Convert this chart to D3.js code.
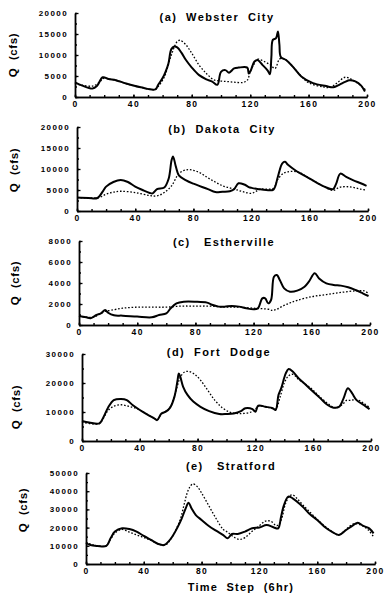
<!DOCTYPE html>
<html>
<head>
<meta charset="utf-8">
<script src="https://cdn.jsdelivr.net/npm/d3@7"></script>
<style>
  html, body { margin: 0; padding: 0; background: #fff; }
  svg { display: block; }
  text { font-family: "Liberation Sans", Arial, sans-serif; font-weight: bold; fill: #000; }
</style>
</head>
<body>
<svg id="chart" width="387" height="601"></svg>
<script>
// ---------------- DATA (time step, Q in cfs) ----------------
const xTicks = [0, 40, 80, 120, 160, 200];

const titles = ["(a)  Webster  City", "(b)  Dakota  City", "(c)   Estherville", "(d)  Fort  Dodge", "(e)   Stratford"];
const yMax = [20000, 20000, 8000, 30000, 50000];
const yLabelStep = [5000, 5000, 2000, 10000, 10000];
const yMinorStep = [2500, 2500, 1000, 5000, 5000];

const websterObs = [[0,3500],[5,2700],[12,2000],[15,2600],[19,4700],[23,4300],[28,4000],[35,3200],[45,2300],[55,1800],[57,2900],[60,4500],[62,6000],[64,8000],[66,11400],[68,12000],[70,11800],[73,10500],[76,8800],[80,7000],[85,5200],[90,4200],[94,3650],[97.5,2900],[100,6000],[103,6400],[105.5,5800],[109,6800],[112,7000],[118,7000],[119,5600],[120.5,6400],[122.8,8400],[125,8800],[128.5,7600],[132,6300],[133.5,5400],[134.5,9500],[135.5,13600],[137.7,14000],[139,15600],[140,12500],[141,9500],[144.6,8800],[149,7300],[155,4900],[163,3300],[172,2600],[177,2300],[181,2900],[185,3600],[188,4000],[192,3700],[196,2700],[198.6,1300]];
const websterSim = [[0,3200],[5,2800],[12,2600],[16,3300],[20,4500],[23,4300],[28,4000],[35,3200],[45,2300],[55,1800],[57,2500],[60,4000],[62,5500],[66,10000],[70,13200],[72,13500],[76,12400],[80,10400],[85,7600],[90,5600],[95,4100],[100,3800],[105,3650],[110,3500],[115,3450],[118,4000],[120,6000],[123,8000],[125,9000],[130,8400],[134,7600],[137,6800],[140,9000],[142,9200],[145,8700],[149,7300],[155,4900],[160,3400],[170,2400],[175,2300],[180,3500],[185,4700],[190,4100],[195,2900],[199,1700]];

const dakotaObs = [[0,3200],[8,3100],[14,3100],[18,4800],[20,5800],[25,6900],[30,7400],[35,6900],[40,5800],[45,5000],[50,4300],[52,4200],[55,5200],[60,5600],[63,7700],[65,12100],[66,13000],[68,10500],[70,8500],[75,7300],[80,6500],[90,5200],[95,4500],[100,4600],[105,4700],[108,5200],[111,6600],[115,6300],[118,5700],[120,5500],[125,5200],[130,5000],[135,5100],[138,8100],[141,11300],[143,11700],[145,11000],[150,9700],[160,7700],[170,5800],[176,5200],[178,6400],[181,8900],[185,8100],[190,7300],[195,6600],[199,6000]];
const dakotaSim = [[0,3200],[8,3100],[15,3200],[20,4000],[25,4500],[30,4700],[40,4400],[50,3700],[55,3600],[60,4400],[65,6000],[70,8900],[75,9800],[80,9700],[85,9000],[90,7900],[95,6900],[100,6000],[105,5500],[110,5000],[115,4500],[120,4200],[123,4700],[126,5200],[130,5200],[135,5400],[138,7500],[142,9000],[146,9400],[150,9400],[155,8800],[160,7700],[170,5800],[176,4900],[180,5600],[185,5800],[190,5600],[195,5200],[199,5000]];

const esthervilleObs = [[0,860],[5,730],[8,650],[12,950],[15,1110],[18,1430],[20,1170],[24,920],[30,890],[40,800],[50,730],[55,950],[60,1110],[63,1590],[67,2060],[72,2220],[80,2220],[88,2130],[92,1900],[96,1750],[100,1750],[105,1810],[110,1750],[115,1590],[120,1490],[123,1590],[126,2540],[128,2540],[130,2060],[132,2380],[134,4600],[136,4760],[138,4290],[141,3490],[145,3170],[150,3270],[155,3650],[158,4130],[162,4920],[165,4440],[170,3970],[175,3810],[180,3750],[185,3590],[190,3330],[195,3020],[199,2760]];
const esthervilleSim = [[0,850],[5,750],[10,750],[15,1100],[18,1300],[22,1400],[30,1600],[40,1700],[50,1700],[60,1700],[70,1800],[80,1800],[90,1800],[100,1700],[110,1700],[120,1600],[130,1500],[133,1400],[136,1500],[140,1800],[145,2100],[150,2350],[160,2700],[170,2900],[180,3100],[190,3250],[196,3250],[199,3000]];

const fortDodgeObs = [[0,6900],[5,6400],[12,6100],[15,8400],[18,11500],[22,14100],[27,14500],[31,14100],[35,12400],[40,10700],[45,9200],[50,7800],[52,7200],[55,9500],[58,10100],[61,11500],[64,15300],[66,20500],[67,23300],[68,22200],[70,18700],[73,15900],[77,13600],[82,11800],[88,10300],[95,9300],[100,9300],[105,9500],[110,10300],[113,11300],[118,11000],[120,10100],[122,12200],[127,11800],[132,11300],[134,10700],[136,15900],[138,18400],[141,23300],[143,24800],[146,23900],[150,21600],[155,19300],[160,17000],[165,14700],[170,12400],[174,11500],[178,11800],[181,14700],[184,18200],[187,16400],[190,14100],[195,12400],[199,11000]];
const fortDodgeSim = [[0,6500],[12,6000],[15,8000],[18,10500],[22,12000],[27,12500],[32,12000],[36,11500],[40,10700],[45,9200],[50,7800],[52,7300],[55,9300],[60,11000],[63,14000],[66,19000],[68,22000],[71,23800],[74,24000],[78,23000],[82,21000],[87,17500],[92,14000],[97,11500],[102,10000],[107,9500],[112,9500],[117,10000],[120,11000],[122,12000],[130,11500],[134,11000],[137,15000],[140,20000],[143,22500],[146,23000],[150,21200],[155,19500],[160,17500],[165,15000],[170,13000],[175,11500],[180,12500],[183,14000],[186,14000],[190,14300],[195,13000],[199,11500]];

const stratfordObs = [[0,11700],[3,10400],[8,9900],[14,9900],[17,14100],[20,17800],[25,19600],[30,19200],[35,17800],[40,15400],[45,13200],[50,11000],[54,10400],[57,12300],[60,15400],[63,19600],[66,24500],[69,30600],[71,33700],[73,30600],[76,26900],[80,24200],[85,20900],[90,18300],[95,15900],[98,14100],[101,16500],[105,16500],[110,17800],[115,19600],[120,20100],[125,21400],[130,20100],[133,19600],[135,26000],[137,32400],[140,37000],[143,36100],[150,31500],[155,27300],[160,24200],[165,20500],[170,17800],[175,15900],[180,18700],[185,21400],[188,22700],[192,20900],[196,19600],[199,16800]];
const stratfordSim = [[0,12000],[5,10500],[14,10000],[17,13500],[20,17000],[25,19000],[30,17500],[35,16000],[40,14500],[45,13000],[50,11000],[55,10500],[60,15500],[65,24000],[68,33000],[70,39000],[72,42500],[74,44000],[77,42500],[80,39000],[85,32000],[90,25000],[95,19000],[98,17500],[102,15000],[106,13500],[110,14500],[115,18000],[120,21000],[124,23500],[128,23500],[132,21000],[135,24000],[138,33000],[141,37500],[143,38000],[146,36000],[150,32500],[155,28500],[160,24500],[165,21000],[170,18000],[175,16000],[180,19000],[185,22000],[190,21500],[195,19000],[199,15000]];

const observed = [websterObs, dakotaObs, esthervilleObs, fortDodgeObs, stratfordObs];
const simulated = [websterSim, dakotaSim, esthervilleSim, fortDodgeSim, stratfordSim];

// ---------------- LAYOUT ----------------
const panels = [
  {x0: 75, x1: 367, yb: 97,  yt: 13,  tx: 217, ty: 21,  qx: 13, qy: 55},
  {x0: 77, x1: 368, yb: 211, yt: 127, tx: 222, ty: 133, qx: 14, qy: 170},
  {x0: 79, x1: 370, yb: 325, yt: 241, tx: 224, ty: 246, qx: 15, qy: 283},
  {x0: 82, x1: 371, yb: 441, yt: 354, tx: 219, ty: 356, qx: 16, qy: 407},
  {x0: 86, x1: 375, yb: 564, yt: 473, tx: 231, ty: 470, qx: 23, qy: 510}
];

const svg = d3.select("#chart");

panels.forEach((p, i) => {
  const x = d3.scaleLinear().domain([0, 200]).range([p.x0, p.x1]);
  const y = d3.scaleLinear().domain([0, yMax[i]]).range([p.yb, p.yt]);
  const g = svg.append("g");

  // y axis minor ticks
  g.append("g").attr("transform", `translate(${p.x0},0)`)
    .call(d3.axisLeft(y).tickValues(d3.range(0, yMax[i] + 1, yMinorStep[i])).tickSize(-2).tickSizeOuter(0).tickFormat(""))
    .call(a => a.selectAll("line,path").attr("stroke", "#000").attr("stroke-width", 1.3));
  // y axis labeled ticks
  g.append("g").attr("transform", `translate(${p.x0},0)`)
    .call(d3.axisLeft(y).tickValues(d3.range(0, yMax[i] + 1, yLabelStep[i])).tickSize(-3.5).tickSizeOuter(0).tickPadding(7).tickFormat(d3.format("d")))
    .call(a => {
      a.select("path").attr("stroke", "#000").attr("stroke-width", 1.6);
      a.selectAll("line").attr("stroke", "#000").attr("stroke-width", 1.3);
      a.selectAll("text").attr("font-size", 8).attr("letter-spacing", 1.4).attr("font-family", "Liberation Sans, Arial, sans-serif").attr("font-weight", "bold");
    });

  // x axis minor ticks
  g.append("g").attr("transform", `translate(0,${p.yb})`)
    .call(d3.axisBottom(x).tickValues(d3.range(0, 201, 10)).tickSize(-2).tickSizeOuter(0).tickFormat(""))
    .call(a => a.selectAll("line,path").attr("stroke", "#000").attr("stroke-width", 1.4));
  // x axis labels
  g.append("g").attr("transform", `translate(0,${p.yb})`)
    .call(d3.axisBottom(x).tickValues(xTicks).tickSize(-2.5).tickSizeOuter(0).tickPadding(4).tickFormat(d3.format("d")))
    .call(a => {
      a.select("path").attr("stroke", "#000").attr("stroke-width", 1.6);
      a.selectAll("line").attr("stroke", "#000").attr("stroke-width", 1.4);
      a.selectAll("text").attr("font-size", 8.5).attr("letter-spacing", 1.4).attr("font-family", "Liberation Sans, Arial, sans-serif").attr("font-weight", "bold");
    });

  const line = d3.line().x(d => x(d[0])).y(d => y(d[1])).curve(d3.curveCatmullRom.alpha(0.5));

  g.append("path").datum(simulated[i])
    .attr("d", line).attr("fill", "none").attr("stroke", "#000")
    .attr("stroke-width", 1.3).attr("stroke-dasharray", "1.6,1.8");
  g.append("path").datum(observed[i])
    .attr("d", line).attr("fill", "none").attr("stroke", "#000")
    .attr("stroke-width", 2).attr("stroke-linejoin", "round");

  g.append("text").attr("x", p.tx).attr("y", p.ty).attr("text-anchor", "middle")
    .attr("font-size", 11).attr("letter-spacing", 1.4).style("white-space", "pre")
    .text(titles[i]);

  g.append("text").attr("transform", `translate(${p.qx},${p.qy}) rotate(-90)`)
    .attr("text-anchor", "middle").attr("dy", "0.35em")
    .attr("font-size", 11.5).attr("letter-spacing", 0.6).style("white-space", "pre")
    .text("Q  (cfs)");
});

svg.append("text").attr("x", 241).attr("y", 591).attr("text-anchor", "middle")
  .attr("font-size", 11).attr("letter-spacing", 1.2).style("white-space", "pre")
  .text("Time  Step  (6hr)");
</script>
</body>
</html>
